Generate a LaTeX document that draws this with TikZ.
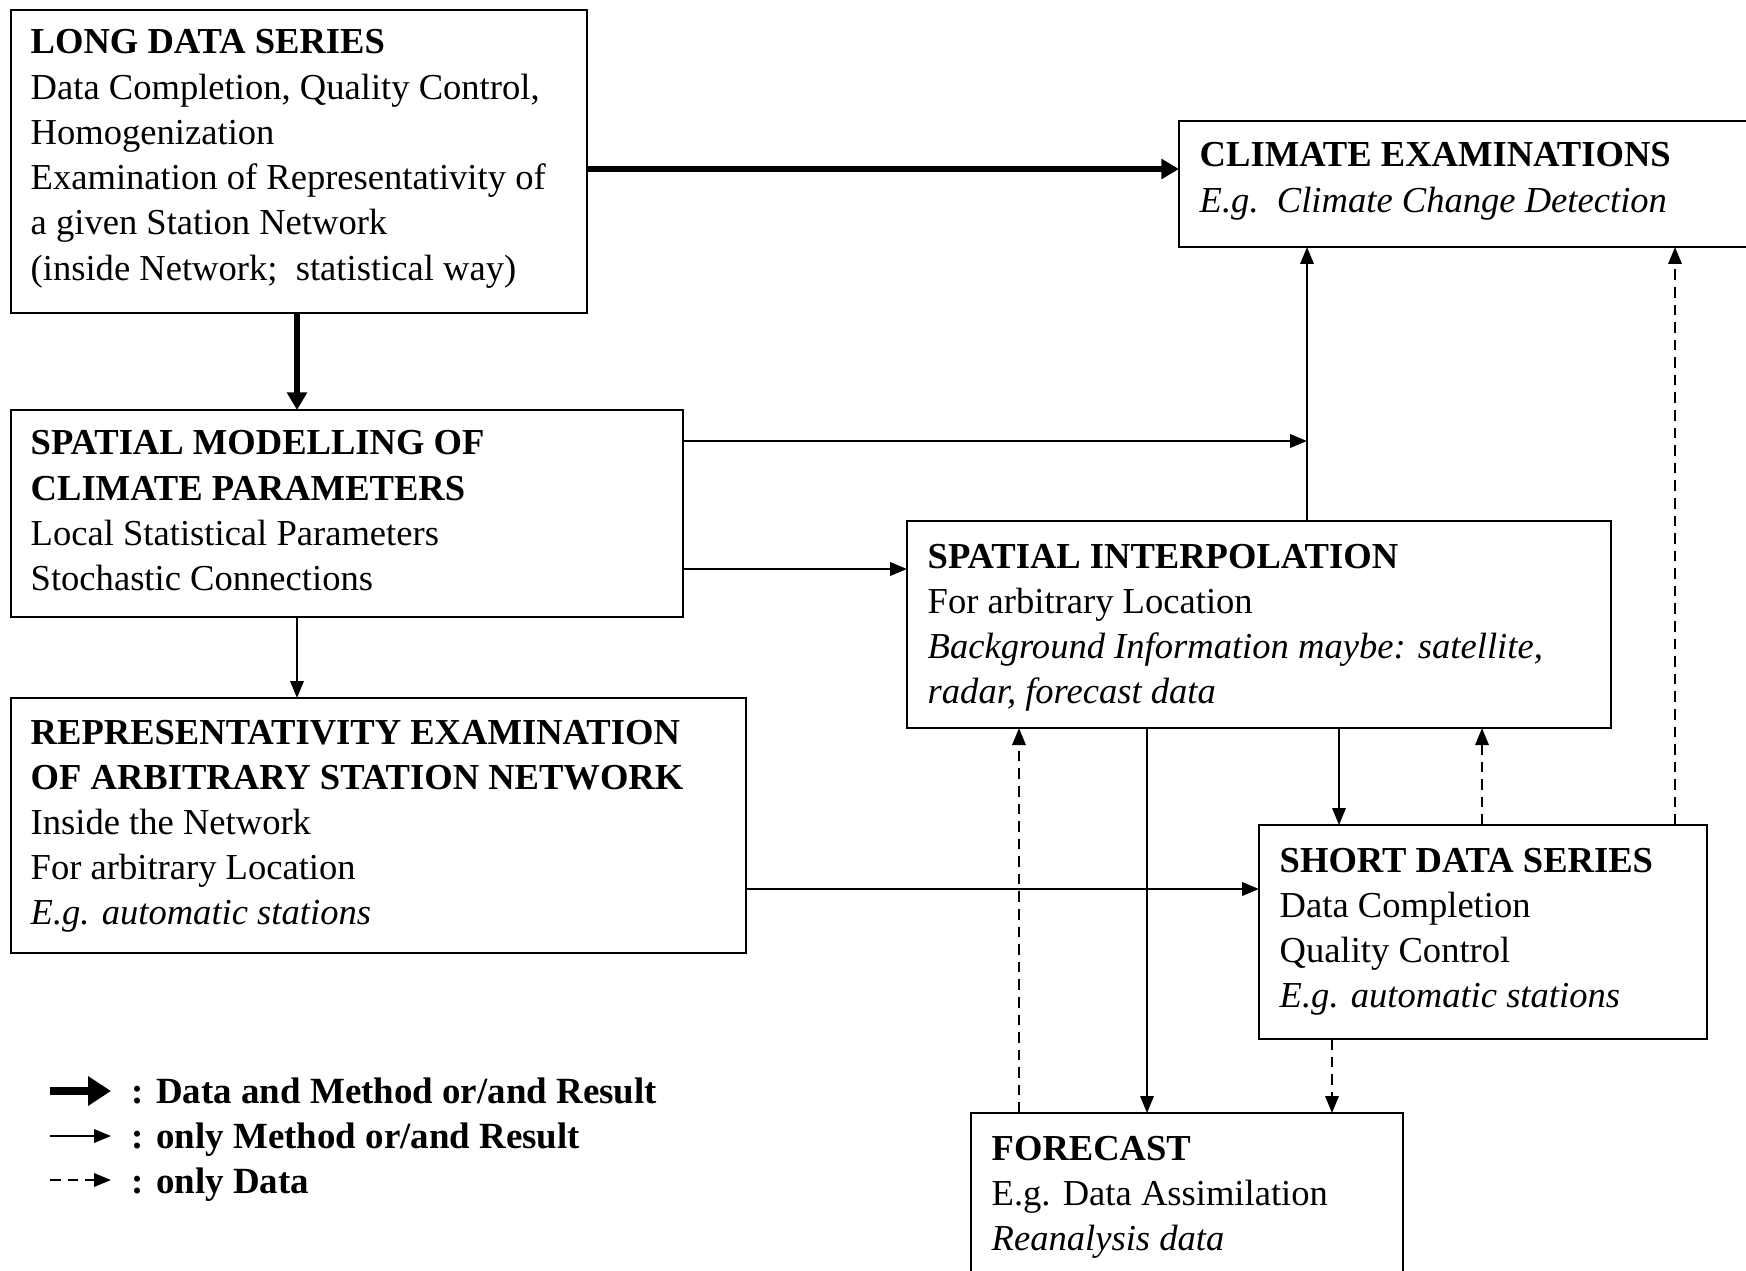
\documentclass[tikz,border=0pt]{standalone}
\usepackage{fontspec}
\setmainfont{Liberation Serif}
\usetikzlibrary{arrows.meta,calc}
\newcommand\boxtext[1]{\begin{tabular}[t]{@{}l@{}}#1\end{tabular}}
\begin{document}
\begin{tikzpicture}[x=0.01cm,y=-0.01cm,
  box/.style={draw,line width=0.6pt,rectangle,anchor=north west,inner sep=0pt,outer sep=0pt},
  txt/.style={anchor=base west,inner sep=0pt,font=\fontsize{10.4}{12.86}\selectfont},
  legtxt/.style={anchor=base west,inner sep=0pt,font=\fontsize{10.5}{12.86}\selectfont\bfseries},
  thinarr/.style={line width=0.6pt,-{Triangle[length=4.8pt,width=3.8pt]}},
  thickarr/.style={line width=1.8pt,-{Triangle[length=5pt,width=5.5pt]}},
  datarr/.style={line width=0.6pt,dash pattern=on 3pt off 2pt,-{Triangle[length=4.8pt,width=3.8pt]}},
]
\useasboundingbox (0,0) rectangle (1746,1270);
\clip (0,0) rectangle (1746,1270);
\fill[white] (0,0) rectangle (1746,1270);

% boxes
\node[box,minimum width=5.76cm,minimum height=3.03cm] (long) at (11,10) {};
\node[box,minimum width=6.20cm,minimum height=1.26cm] (clim) at (1179,121) {};
\node[box,minimum width=6.72cm,minimum height=2.07cm] (smod) at (11,410) {};
\node[box,minimum width=7.04cm,minimum height=2.07cm] (sint) at (907,521) {};
\node[box,minimum width=7.35cm,minimum height=2.55cm] (rep) at (11,698) {};
\node[box,minimum width=4.48cm,minimum height=2.14cm] (short) at (1259,825) {};
\node[box,minimum width=4.32cm,minimum height=2.20cm] (fore) at (971,1113) {};

% texts
\node[txt] (longt) at ($(long.north west)+(19,44)$) {\boxtext{\textbf{LONG DATA SERIES}\\
Data Completion, Quality Control,\\
Homogenization\\
Examination of Representativity of\\
a given Station Network\\
(inside Network;\ \ statistical way)}};
\node[txt] (climt) at ($(clim.north west)+(20,46)$) {\boxtext{\textbf{CLIMATE EXAMINATIONS}\\
\textit{E.g.\ \ Climate Change Detection}}};
\node[txt] (smodt) at ($(smod.north west)+(19,45)$) {\boxtext{\textbf{SPATIAL MODELLING OF}\\
\textbf{CLIMATE PARAMETERS}\\
Local Statistical Parameters\\
Stochastic Connections}};
\node[txt] (sintt) at ($(sint.north west)+(20,47)$) {\boxtext{\textbf{SPATIAL INTERPOLATION}\\
For arbitrary Location\\
\textit{Background Information maybe: satellite,}\\
\textit{radar, forecast data}}};
\node[txt] (rept) at ($(rep.north west)+(19,46)$) {\boxtext{\textbf{REPRESENTATIVITY EXAMINATION}\\
\textbf{OF ARBITRARY STATION NETWORK}\\
Inside the Network\\
For arbitrary Location\\
\textit{E.g. automatic stations}}};
\node[txt] (shortt) at ($(short.north west)+(20,47)$) {\boxtext{\textbf{SHORT DATA SERIES}\\
Data Completion\\
Quality Control\\
\textit{E.g. automatic stations}}};
\node[txt] (foret) at ($(fore.north west)+(20,47)$) {\boxtext{\textbf{FORECAST}\\
E.g. Data Assimilation\\
\textit{Reanalysis data}}};

% junction on the vertical line to climate examinations
\coordinate (j1) at (1307,441);

% connectors
\draw[thickarr] (long.east |- 0,169) -- (clim.west |- 0,169);
\draw[thickarr] (long.south -| 297,0) -- (smod.north -| 297,0);
\draw[thinarr] (smod.east |- j1) -- (j1);
\draw[thinarr] (sint.north -| j1) -- (clim.south -| j1);
\draw[thinarr] (smod.east |- 0,569) -- (sint.west |- 0,569);
\draw[thinarr] (smod.south -| 297,0) -- (rep.north -| 297,0);
\draw[thinarr] (rep.east |- 0,889) -- (short.west |- 0,889);
\draw[thinarr] (sint.south -| 1147,0) -- (fore.north -| 1147,0);
\draw[thinarr] (sint.south -| 1339,0) -- (short.north -| 1339,0);
\draw[datarr] (short.north -| 1482,0) -- (sint.south -| 1482,0);
\draw[datarr] (short.north -| 1675,0) -- (clim.south -| 1675,0);
\draw[datarr] (fore.north -| 1019,0) -- (sint.south -| 1019,0);
\draw[datarr] (short.south -| 1332,0) -- (fore.north -| 1332,0);

% legend
\coordinate (l1a) at (50,1091); \coordinate (l1b) at (111,1091);
\coordinate (l2a) at (50,1136); \coordinate (l2b) at (111,1136);
\coordinate (l3a) at (50,1180); \coordinate (l3b) at (111,1180);
\draw[line width=2.4pt,-{Triangle[length=6.5pt,width=8pt]}] (l1a) -- (l1b);
\draw[thinarr] (l2a) -- (l2b);
\draw[datarr] (l3a) -- (l3b);
\node[legtxt] (lg1) at (131,1103) {: Data and Method or/and Result};
\node[legtxt] (lg2) at (131,1148) {: only Method or/and Result};
\node[legtxt] (lg3) at (131,1193) {: only Data};
\end{tikzpicture}
\end{document}
